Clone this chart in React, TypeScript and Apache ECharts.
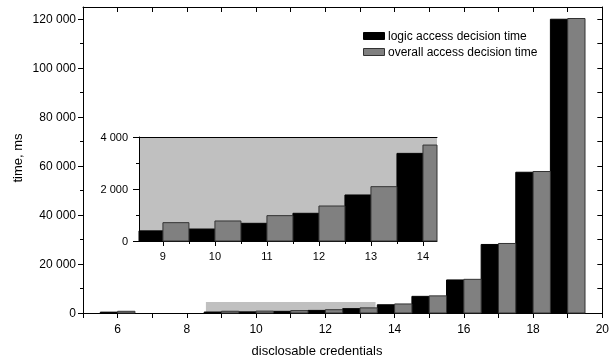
import React, { useEffect, useRef } from 'react';
import * as echarts from 'echarts';

const credentials = [6, 9, 10, 11, 12, 13, 14, 15, 16, 17, 18, 19];
const logicTime = [350, 390, 460, 680, 1065, 1770, 3370, 6800, 13500, 28000, 57500, 120000];
const overallTime = [700, 705, 770, 975, 1346, 2090, 3690, 7000, 13750, 28400, 57800, 120300];
const seriesNames = ['logic access decision time', 'overall access decision time'];

const mainYMajor = [0, 20000, 40000, 60000, 80000, 100000, 120000];
const mainYMinor = [10000, 30000, 50000, 70000, 90000, 110000];
const mainYRight = [0, 10000, 20000, 30000, 40000, 50000, 60000, 70000, 80000, 90000, 100000, 110000, 120000];
const insetXMajor = [9, 10, 11, 12, 13, 14];
const insetXMinor = [9.5, 10.5, 11.5, 12.5, 13.5];
const insetYMajor = [0, 2000, 4000];
const insetYMinor = [1000, 3000];
const zoomRegion = [[8.55, 13.45, 4500]];

const FONT = '"Liberation Sans", Arial, sans-serif';

const fmt = (v: number) => String(v).replace(/\B(?=(\d{3})+(?!\d))/g, ' ');

function makeBar(o0: number, o1: number, fill: string, stroke: string) {
  return (params: any, api: any) => {
    const x = api.value(0);
    const v = api.value(1);
    const a = api.coord([x + o0, v]);
    const b = api.coord([x + o1, 0]);
    const cs = params.coordSys;
    const shape = echarts.graphic.clipRectByRect(
      { x: a[0], y: a[1], width: b[0] - a[0], height: b[1] - a[1] },
      { x: cs.x, y: cs.y, width: cs.width, height: cs.height }
    );
    if (!shape) return null;
    return { type: 'rect', shape, style: { fill, stroke, lineWidth: 1 } };
  };
}

const axisLine = { show: true, onZero: false, lineStyle: { color: '#000', width: 1 } };
const noLabel = { show: false };

export default function App() {
  const ref = useRef<HTMLDivElement>(null);
  useEffect(() => {
    if (!ref.current) return;
    const chart = echarts.init(ref.current, undefined, { renderer: 'svg' });
    const logicData = credentials.map((c, i) => [c, logicTime[i]]);
    const overallData = credentials.map((c, i) => [c, overallTime[i]]);
    const option: any = {
      animation: false,
      textStyle: { fontFamily: FONT, color: '#000' },
      grid: [
        { left: 83, right: 5, top: 7, bottom: 45, show: false },
        { left: 139, right: 175, top: 137, bottom: 117, show: true, backgroundColor: '#c0c0c0', borderWidth: 0 },
      ],
      xAxis: [
        {
          gridIndex: 0, type: 'value', position: 'bottom', min: 5, max: 20, interval: 1,
          axisLine, splitLine: { show: false },
          axisTick: { show: true, inside: false, length: 5, lineStyle: { color: '#000' } },
          axisLabel: { fontSize: 12, color: '#000', fontFamily: FONT, margin: 10, formatter: (v: number) => (v % 2 === 0 ? String(v) : '') },
        },
        {
          gridIndex: 0, type: 'value', position: 'top', min: 5, max: 20, interval: 1,
          axisLine, splitLine: { show: false },
          axisTick: { show: true, inside: true, length: 5, lineStyle: { color: '#000' } },
          axisLabel: noLabel,
        },
        {
          gridIndex: 1, type: 'value', position: 'bottom', min: 8.54, max: 14.27,
          axisLine, splitLine: { show: false },
          axisTick: { show: true, inside: false, length: 5, customValues: insetXMajor, lineStyle: { color: '#000' } },
          axisLabel: { fontSize: 11, color: '#000', fontFamily: FONT, margin: 9, customValues: insetXMajor, formatter: (v: number) => String(v) },
        },
        {
          gridIndex: 1, type: 'value', position: 'bottom', min: 8.54, max: 14.27,
          axisLine: { show: false, onZero: false }, splitLine: { show: false },
          axisTick: { show: true, inside: false, length: 3, customValues: insetXMinor, lineStyle: { color: '#000' } },
          axisLabel: noLabel,
        },
        {
          gridIndex: 1, type: 'value', position: 'top', min: 8.54, max: 14.27,
          axisLine, splitLine: { show: false }, axisTick: { show: false }, axisLabel: noLabel,
        },
      ],
      yAxis: [
        {
          gridIndex: 0, type: 'value', position: 'left', min: 0, max: 125000,
          axisLine, splitLine: { show: false },
          axisTick: { show: true, inside: false, length: 5, customValues: mainYMajor, lineStyle: { color: '#000' } },
          axisLabel: { fontSize: 12, color: '#000', fontFamily: FONT, margin: 7, customValues: mainYMajor, formatter: fmt },
        },
        {
          gridIndex: 0, type: 'value', position: 'left', min: 0, max: 125000,
          axisLine: { show: false, onZero: false }, splitLine: { show: false },
          axisTick: { show: true, inside: false, length: 3, customValues: mainYMinor, lineStyle: { color: '#000' } },
          axisLabel: noLabel,
        },
        {
          gridIndex: 0, type: 'value', position: 'right', min: 0, max: 125000,
          axisLine, splitLine: { show: false },
          axisTick: { show: true, inside: true, length: 5, customValues: mainYRight, lineStyle: { color: '#000' } },
          axisLabel: noLabel,
        },
        {
          gridIndex: 1, type: 'value', position: 'left', min: 0, max: 4000,
          axisLine, splitLine: { show: false },
          axisTick: { show: true, inside: false, length: 6, customValues: insetYMajor, lineStyle: { color: '#000' } },
          axisLabel: { fontSize: 11, color: '#000', fontFamily: FONT, margin: 11, customValues: insetYMajor, formatter: fmt },
        },
        {
          gridIndex: 1, type: 'value', position: 'left', min: 0, max: 4000,
          axisLine: { show: false, onZero: false }, splitLine: { show: false },
          axisTick: { show: true, inside: false, length: 3, customValues: insetYMinor, lineStyle: { color: '#000' } },
          axisLabel: noLabel,
        },
      ],
      series: [
        {
          type: 'custom', name: 'zoom region', xAxisIndex: 0, yAxisIndex: 0, z: 1,
          data: zoomRegion,
          renderItem: (params: any, api: any) => {
            const a = api.coord([api.value(0), api.value(2)]);
            const b = api.coord([api.value(1), 0]);
            return { type: 'rect', shape: { x: a[0], y: a[1], width: b[0] - a[0], height: b[1] - a[1] }, style: { fill: '#c0c0c0' } };
          },
        },
        {
          type: 'custom', name: seriesNames[0], xAxisIndex: 0, yAxisIndex: 0, z: 2,
          data: logicData, encode: { x: 0, y: 1 },
          renderItem: makeBar(-0.5, 0, '#000000', '#000000'),
        },
        {
          type: 'custom', name: seriesNames[1], xAxisIndex: 0, yAxisIndex: 0, z: 2,
          data: overallData, encode: { x: 0, y: 1 },
          renderItem: makeBar(0, 0.5, '#808080', '#333333'),
        },
        {
          type: 'custom', name: seriesNames[0], xAxisIndex: 2, yAxisIndex: 3, z: 3,
          data: logicData, encode: { x: 0, y: 1 },
          renderItem: makeBar(-0.5, 0, '#000000', '#000000'),
        },
        {
          type: 'custom', name: seriesNames[1], xAxisIndex: 2, yAxisIndex: 3, z: 3,
          data: overallData, encode: { x: 0, y: 1 },
          renderItem: makeBar(0, 0.5, '#808080', '#333333'),
        },
      ],
      graphic: [
        {
          type: 'text', x: 17, y: 158, rotation: Math.PI / 2,
          style: { text: 'time, ms', fontSize: 13, fontFamily: FONT, fill: '#000', align: 'center', verticalAlign: 'middle' },
        },
        {
          type: 'text', x: 317, y: 350,
          style: { text: 'disclosable credentials', fontSize: 13, fontFamily: FONT, fill: '#000', align: 'center', verticalAlign: 'middle' },
        },
        { type: 'rect', z: 10, shape: { x: 363.5, y: 32.5, width: 21, height: 7 }, style: { fill: '#000', stroke: '#000', lineWidth: 1 } },
        {
          type: 'text', z: 10, x: 388, y: 36,
          style: { text: seriesNames[0], fontSize: 12, fontFamily: FONT, fill: '#000', align: 'left', verticalAlign: 'middle' },
        },
        { type: 'rect', z: 10, shape: { x: 363.5, y: 48.5, width: 21, height: 7 }, style: { fill: '#808080', stroke: '#333', lineWidth: 1 } },
        {
          type: 'text', z: 10, x: 388, y: 52,
          style: { text: seriesNames[1], fontSize: 12, fontFamily: FONT, fill: '#000', align: 'left', verticalAlign: 'middle' },
        },
      ],
    };
    chart.setOption(option);
    return () => chart.dispose();
  }, []);
  return <div ref={ref} style={{ position: 'fixed', left: 0, top: 0, width: 612, height: 358 }} />;
}
